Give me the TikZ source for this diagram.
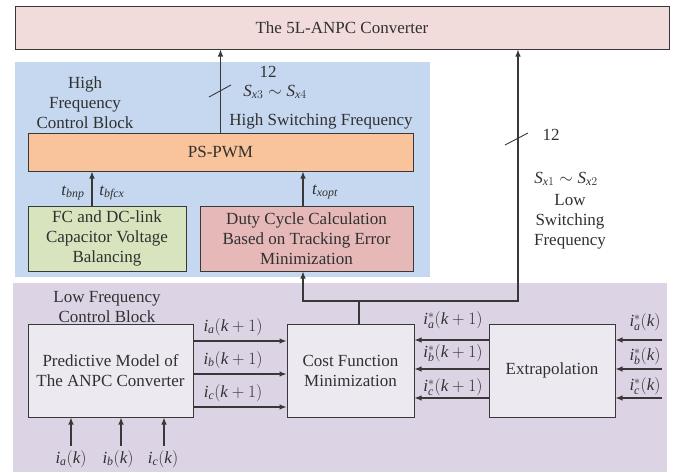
\documentclass[tikz,border=0pt]{standalone}
\usepackage{fontspec}
\setmainfont{Liberation Serif}
\usetikzlibrary{arrows.meta}
\definecolor{topc}{HTML}{F2DCDB}
\definecolor{bluec}{HTML}{C6D8F0}
\definecolor{psc}{HTML}{F9C39B}
\definecolor{fcc}{HTML}{D7E4BD}
\definecolor{dutyc}{HTML}{E6B9B8}
\definecolor{purc}{HTML}{DCD4E5}
\definecolor{innc}{HTML}{EDE9F1}
\definecolor{linec}{HTML}{383838}
\definecolor{txtc}{HTML}{303030}
\newcommand{\mi}[1]{\mathit{#1}}
\begin{document}
\begin{tikzpicture}[x=1pt,y=-1pt,
  every node/.style={text=txtc,font=\fontsize{17}{20}\selectfont},
  blk/.style={draw=linec,line width=1pt,align=center,inner sep=0pt},
  lbl/.style={inner sep=0pt,align=center},
  arr/.style={draw=linec,line width=1.1pt,-{Latex[length=7pt,width=5.5pt]}},
  ln/.style={draw=linec,line width=1.1pt}]
\useasboundingbox (0,0) rectangle (681,472);
% regions
\fill[bluec] (15,62) rectangle (430,277);
\fill[purc] (13,283) rectangle (667,472);
% blocks
\node[blk,fill=topc,minimum width=654pt,minimum height=43pt] (conv) at (342,27.5) {The 5L-ANPC Converter};
\node[blk,fill=psc,minimum width=385pt,minimum height=38pt] (ps) at (220.5,152) {PS-PWM};
\node[blk,fill=fcc,minimum width=158pt,minimum height=65pt] (fc) at (107,238.5) {FC and DC-link\\Capacitor Voltage\\Balancing};
\node[blk,fill=dutyc,minimum width=213pt,minimum height=65pt] (duty) at (306.5,238.5) {Duty Cycle Calculation\\Based on Tracking Error\\Minimization};
\node[blk,fill=innc,minimum width=165pt,minimum height=93pt] (pm) at (110.5,370.5) {Predictive Model of\\The ANPC Converter};
\node[blk,fill=innc,minimum width=127pt,minimum height=93pt] (cost) at (350.5,370.5) {Cost Function\\Minimization};
\node[blk,fill=innc,minimum width=126pt,minimum height=93pt] (ext) at (552,370.5) {Extrapolation};
% region titles
\node[lbl] (hftitle) at (85,103) {High\\Frequency\\Control Block};
\node[lbl] (lftitle) at (107,307) {Low Frequency\\Control Block};
% coordinates
\coordinate (fcx) at (92,0);
\coordinate (dx) at (303,0);
\coordinate (rx) at (518,0);
\coordinate (j) at (359,301);
\coordinate (in1) at (71,446);
\coordinate (in2) at (121,446);
\coordinate (in3) at (164,446);
\coordinate (o1) at (0,341);
\coordinate (o2) at (0,374);
\coordinate (o3) at (0,407);
\coordinate (e1) at (0,340);
\coordinate (e2) at (0,369);
\coordinate (e3) at (0,398);
\coordinate (r1) at (662,340);
\coordinate (r2) at (662,369);
\coordinate (r3) at (662,398);
\coordinate (s1) at (220,91);
\coordinate (s2) at (517,139);
% connectors
\draw[arr] (ps.north) -- (ps.north |- conv.south);
\draw[arr] (fc.north -| fcx) -- (ps.south -| fcx);
\draw[arr] (duty.north -| dx) -- (ps.south -| dx);
\draw[ln] (cost.north -| j) -- (j);
\draw[arr] (j) -| (duty.south -| dx);
\draw[arr] (j) -| (conv.south -| rx);
\foreach \o in {o1,o2,o3} \draw[arr] (pm.east |- \o) -- (cost.west |- \o);
\foreach \e in {e1,e2,e3} \draw[arr] (ext.west |- \e) -- (cost.east |- \e);
\foreach \r in {r1,r2,r3} \draw[arr] (\r) -- (ext.east |- \r);
\foreach \i in {in1,in2,in3} \draw[arr] (\i) -- (pm.south -| \i);
% bus slashes
\draw[ln,line width=0.9pt] ([shift={(-11,6)}]s1) -- ([shift={(11,-6)}]s1);
\draw[ln,line width=0.9pt] ([shift={(-12,6)}]s2) -- ([shift={(11,-6)}]s2);
% labels
\node[lbl] (n12a) at (268,72) {12};
\node[lbl] (sx34) at (275,92) {$\mi{S}_{\mi{x}3}\sim \mi{S}_{\mi{x}4}$};
\node[lbl] (hsf) at (321,121) {High Switching Frequency};
\node[lbl] (n12b) at (551,135) {12};
\node[lbl] (sx12) at (566,179) {$\mi{S}_{\mi{x}1}\sim \mi{S}_{\mi{x}2}$};
\node[lbl] (lsf) at (570,222) {Low\\Switching\\Frequency};
\node[lbl] (tbnp) at (73,193) {$\mi{t}_{\mi{bnp}}$};
\node[lbl] (tbfcx) at (112,193) {$\mi{t}_{\mi{bfcx}}$};
\node[lbl] (txopt) at (325,192) {$\mi{t}_{\mi{xopt}}$};
\node[lbl] (la) at (233,327) {$\mi{i}_{\mi{a}}(\mi{k}+1)$};
\node[lbl] (lb) at (233,360) {$\mi{i}_{\mi{b}}(\mi{k}+1)$};
\node[lbl] (lc) at (233,393) {$\mi{i}_{\mi{c}}(\mi{k}+1)$};
\node[lbl] (sa) at (453,320) {$\mi{i}^{*}_{\mi{a}}(\mi{k}+1)$};
\node[lbl] (sb) at (453,353) {$\mi{i}^{*}_{\mi{b}}(\mi{k}+1)$};
\node[lbl] (sc) at (453,387) {$\mi{i}^{*}_{\mi{c}}(\mi{k}+1)$};
\node[lbl] (ra) at (645,322) {$\mi{i}^{*}_{\mi{a}}(\mi{k})$};
\node[lbl] (rb) at (645,356) {$\mi{i}^{*}_{\mi{b}}(\mi{k})$};
\node[lbl] (rc) at (645,386) {$\mi{i}^{*}_{\mi{c}}(\mi{k})$};
\node[lbl] (ia) at (71,459) {$\mi{i}_{\mi{a}}(\mi{k})$};
\node[lbl] (ib) at (118,459) {$\mi{i}_{\mi{b}}(\mi{k})$};
\node[lbl] (ic) at (163,459) {$\mi{i}_{\mi{c}}(\mi{k})$};
\end{tikzpicture}
\end{document}
